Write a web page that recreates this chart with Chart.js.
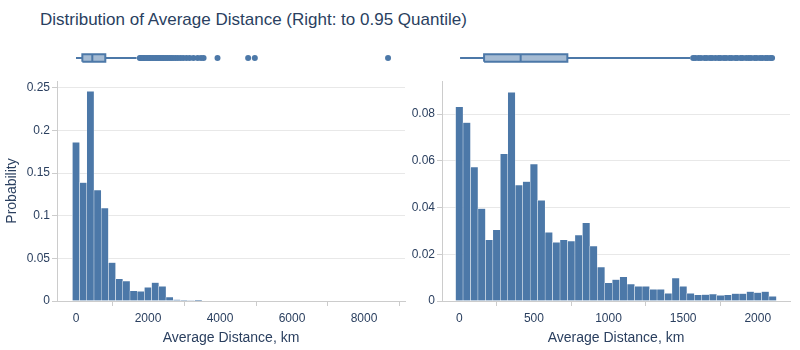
<!DOCTYPE html>
<html>
<head>
<meta charset="utf-8">
<script src="https://cdn.jsdelivr.net/npm/chart.js@4.4.1/dist/chart.umd.min.js"></script>
<style>
  body { margin: 0; background: #fff; width: 800px; height: 350px; position: relative; overflow: hidden; font-family: "Liberation Sans", Arial, sans-serif; }
  .box { position: absolute; }
  #title { position: absolute; left: 40px; top: 10px; font-size: 17px; line-height: 20px; color: #2a3f5f; white-space: nowrap; }
</style>
</head>
<body>
<div id="title">Distribution of Average Distance (Right: to 0.95 Quantile)</div>
<div class="box" style="left:0;top:0;width:410px;height:350px"><canvas id="histL"></canvas></div>
<div class="box" style="left:405px;top:0;width:395px;height:350px"><canvas id="histR"></canvas></div>
<div class="box" style="left:0;top:40px;width:410px;height:36px"><canvas id="boxL"></canvas></div>
<div class="box" style="left:405px;top:40px;width:395px;height:36px"><canvas id="boxR"></canvas></div>
<script>
// histogram bins (bin centres, km) and probabilities
const leftBins = [0, 200, 400, 600, 800, 1000, 1200, 1400, 1600, 1800, 2000, 2200, 2400, 2600, 2800, 3000, 3200, 3400];
const leftProb = [0.186, 0.139, 0.246, 0.130, 0.109, 0.045, 0.026, 0.0235, 0.012, 0.0114, 0.016, 0.0216, 0.0173, 0.0047, 0.0016, 0.0008, 0.0005, 0.0003];

const rightBins = [0, 50, 100, 150, 200, 250, 300, 350, 400, 450, 500, 550, 600, 650, 700, 750, 800, 850, 900, 950, 1000,
  1050, 1100, 1150, 1200, 1250, 1300, 1350, 1400, 1450, 1500, 1550, 1600, 1650, 1700, 1750, 1800, 1850, 1900, 1950, 2000, 2050, 2100];
const rightProb = [0.0831, 0.0764, 0.0573, 0.0396, 0.0262, 0.0305, 0.0630, 0.0894, 0.0496, 0.0511, 0.0586, 0.0431, 0.0294, 0.0251, 0.0262, 0.0257, 0.0282, 0.0335, 0.0235, 0.0145, 0.0078,
  0.0092, 0.0104, 0.0072, 0.0063, 0.0063, 0.0050, 0.0050, 0.0033, 0.0098, 0.0063, 0.0033, 0.0026, 0.0027, 0.0030, 0.0024, 0.0026, 0.0032, 0.0032, 0.0040, 0.0036, 0.0040, 0.0020];

// box plot: lower whisker, q1, median, q3, upper whisker
const leftBox = [0, 176, 453, 814, 1683];
const rightBox = [5, 166, 411, 724, 1547];
const leftOutliers = [1772, 1801, 1836, 1868, 1912, 1944, 1993, 2031, 2068, 2114, 2158, 2207, 2249, 2293, 2338, 2391, 2427, 2482, 2533, 2588, 2642, 2697, 2763, 2829, 2904, 2977, 3068, 3157, 3262, 3378, 3472, 3544, 3931, 4782, 4967, 8668];
const rightOutliers = [1567, 1581, 1602, 1619, 1643, 1658, 1680, 1694, 1716, 1737, 1751, 1773, 1788, 1810, 1826, 1849, 1862, 1885, 1899, 1922, 1940, 1955, 1978, 1993, 2015, 2031, 2052, 2066, 2084, 2096];

// axes
const leftRange = [-528, 9139];
const rightRange = [-116, 2216];
const leftXTicks = [0, 2000, 4000, 6000, 8000];
const rightXTicks = [0, 500, 1000, 1500, 2000];
const leftYTicks = [0, 0.05, 0.1, 0.15, 0.2, 0.25];
const rightYTicks = [0, 0.02, 0.04, 0.06, 0.08];

const blue = '#4c78a8';
const boxFill = 'rgba(76,120,168,0.5)';
const textColor = '#2a3f5f';
const font = '"Liberation Sans", Arial, sans-serif';
Chart.defaults.font.family = font;
Chart.defaults.color = textColor;

function setTicks(vals) {
  return s => { s.ticks = vals.map(v => ({ value: v })); };
}

function histChart(id, bins, probs, range, xTicks, yTicks, yMax, yWidth, padRight, showYTitle) {
  new Chart(document.getElementById(id), {
    type: 'bar',
    data: { datasets: [{
      data: bins.map((b, i) => ({ x: b, y: probs[i] })),
      backgroundColor: blue,
      borderColor: 'rgba(255,255,255,0.85)',
      borderWidth: { left: 0.5, right: 0.5, top: 0.5, bottom: 0 },
      borderSkipped: false,
      barPercentage: 1, categoryPercentage: 1
    }] },
    options: {
      responsive: true, maintainAspectRatio: false, animation: false,
      layout: { padding: { top: 81, right: padRight, bottom: 0, left: 0 } },
      plugins: { legend: { display: false }, tooltip: { enabled: false } },
      scales: {
        x: {
          type: 'linear', min: range[0], max: range[1], offset: false,
          afterBuildTicks: setTicks(xTicks),
          afterFit: s => { s.height = 49; },
          grid: { drawOnChartArea: false, drawTicks: true, tickLength: 5, tickColor: '#cccccc' },
          border: { display: true, color: '#cccccc' },
          ticks: { padding: 5, font: { size: 12 }, color: textColor, maxRotation: 0, callback: v => String(v) },
          title: { display: true, text: 'Average Distance, km', font: { size: 14 }, color: textColor, padding: { top: 0, bottom: 3 } }
        },
        y: {
          min: 0, max: yMax,
          afterBuildTicks: setTicks(yTicks),
          afterFit: s => { s.width = yWidth; },
          grid: { color: '#e8e8e8', drawTicks: true, tickLength: 5, tickColor: '#cccccc' },
          border: { display: true, color: '#cccccc' },
          ticks: { padding: 2, font: { size: 12 }, color: textColor, callback: v => String(v) },
          title: { display: showYTitle, text: 'Probability', font: { size: 14 }, color: textColor, padding: 4 }
        }
      }
    }
  });
}

function boxChart(id, stats, outliers, range, padLeft, padRight) {
  const [lo, q1, med, q3, hi] = stats;
  const h = 0.26;
  const line = { borderColor: blue, borderWidth: 2, pointRadius: 0, fill: false };
  new Chart(document.getElementById(id), {
    type: 'line',
    data: { datasets: [
      { data: outliers.map(v => ({ x: v, y: 0 })), showLine: false, pointRadius: 3, pointBorderWidth: 0, pointBackgroundColor: blue },
      Object.assign({}, line, { data: [{ x: med, y: -h }, { x: med, y: h }] }),
      Object.assign({}, line, { data: [{ x: q1, y: -h }, { x: q3, y: -h }, { x: q3, y: h }, { x: q1, y: h }, { x: q1, y: -h }], fill: 'shape', backgroundColor: boxFill }),
      Object.assign({}, line, { data: [{ x: lo, y: 0 }, { x: q1, y: 0 }] }),
      Object.assign({}, line, { data: [{ x: q3, y: 0 }, { x: hi, y: 0 }] })
    ] },
    options: {
      responsive: true, maintainAspectRatio: false, animation: false,
      layout: { padding: { top: 0, bottom: 0, left: padLeft, right: padRight } },
      plugins: { legend: { display: false }, tooltip: { enabled: false } },
      scales: {
        x: { type: 'linear', min: range[0], max: range[1], display: false },
        y: { min: -1, max: 1, display: false }
      }
    }
  });
}

histChart('histL', leftBins, leftProb, leftRange, leftXTicks, leftYTicks, 0.258, 57, 5, true);
histChart('histR', rightBins, rightProb, rightRange, rightXTicks, rightYTicks, 0.0942, 37, 10, false);
boxChart('boxL', leftBox, leftOutliers, leftRange, 57, 5);
boxChart('boxR', rightBox, rightOutliers, rightRange, 37, 10);
</script>
</body>
</html>
